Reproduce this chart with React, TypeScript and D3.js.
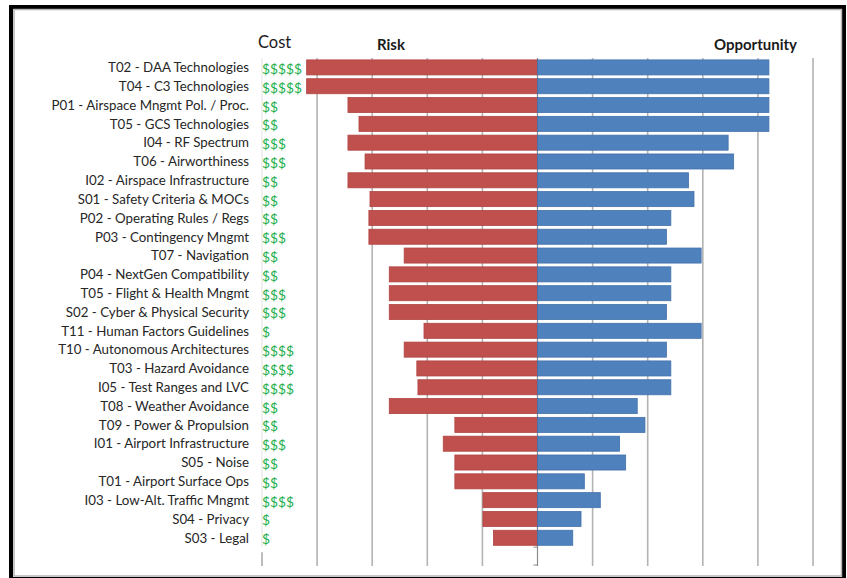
import React from "react";
import * as d3 from "d3";

// Projects, listed top to bottom
const categories = [
  "T02 - DAA Technologies",
  "T04 - C3 Technologies",
  "P01 - Airspace Mngmt Pol. / Proc.",
  "T05 - GCS Technologies ",
  "I04 - RF Spectrum",
  "T06 - Airworthiness",
  "I02 - Airspace Infrastructure",
  "S01 - Safety Criteria & MOCs",
  "P02 - Operating Rules / Regs",
  "P03 - Contingency Mngmt",
  "T07 - Navigation",
  "P04 - NextGen Compatibility",
  "T05 - Flight & Health Mngmt",
  "S02 - Cyber & Physical Security",
  "T11 - Human Factors Guidelines",
  "T10 - Autonomous Architectures",
  "T03 - Hazard Avoidance",
  "I05 - Test Ranges and LVC",
  "T08 - Weather Avoidance",
  "T09 - Power & Propulsion",
  "I01 - Airport Infrastructure",
  "S05 - Noise",
  "T01 - Airport Surface Ops",
  "I03 - Low-Alt. Traffic Mngmt",
  "S04 - Privacy",
  "S03 - Legal",
];

// Cost rating (number of $ signs)
const cost = [5, 5, 2, 2, 3, 3, 2, 2, 2, 3, 2, 2, 3, 3, 1, 4, 4, 4, 2, 2, 3, 2, 2, 4, 1, 1];

// Risk score (drawn to the left of zero)
const risk = [
  4.19, 4.19, 3.44, 3.24, 3.44, 3.13, 3.44, 3.04, 3.06, 3.06, 2.42, 2.69, 2.69,
  2.69, 2.06, 2.42, 2.19, 2.17, 2.69, 1.5, 1.71, 1.5, 1.5, 0.99, 0.99, 0.8,
];

// Opportunity score (drawn to the right of zero)
const opportunity = [
  4.2, 4.2, 4.2, 4.2, 3.46, 3.56, 2.74, 2.84, 2.42, 2.34, 2.97, 2.42, 2.42,
  2.34, 2.97, 2.34, 2.42, 2.42, 1.81, 1.95, 1.49, 1.6, 0.85, 1.14, 0.79, 0.64,
];

const gridTicks = [-5, -4, -3, -2, -1, 0, 1, 2, 3, 4, 5];

const W = 847;
const H = 578;
const FONT = "Lato, 'Open Sans', sans-serif";

export default function App() {
  const x = d3.scaleLinear().domain([-5, 5]).range([262, 813]);
  // one trailing empty slot below the last project
  const slots = [...categories, "__blank__"];
  const y = d3
    .scaleBand<string>()
    .domain(slots)
    .range([58, 566])
    .paddingInner(0.2)
    .paddingOuter(0.1);
  const bw = y.bandwidth();
  const x0 = x(0);
  const blankTop = (y("__blank__") as number) - (y.step() * 0.2) / 2;

  return (
    <svg
      width={W}
      height={H}
      style={{ position: "absolute", left: 0, top: 0, background: "#fff" }}
      fontFamily={FONT}
    >
      <rect x={0} y={0} width={W} height={H} fill="#fff" />
      {/* frame */}
      <rect x={11} y={7} width={833} height={572} fill="none" stroke="#000" strokeWidth={4} />
      <rect x={14} y={9.5} width={827.5} height={566.5} fill="none" stroke="#b5b5b5" strokeWidth={1.5} />

      {/* vertical gridlines */}
      {gridTicks.map((t) =>
        t === -5 ? (
          <g key={t}>
            <line x1={x(t)} x2={x(t)} y1={58} y2={blankTop} stroke="#e6e6e6" strokeWidth={1.2} />
            <line x1={x(t)} x2={x(t)} y1={blankTop + 5} y2={566} stroke="#a6a6a6" strokeWidth={1.5} />
          </g>
        ) : (
          <line
            key={t}
            x1={x(t)}
            x2={x(t)}
            y1={58}
            y2={566}
            stroke={t === 0 ? "#8c8c8c" : "#b3b3b3"}
            strokeWidth={t === 0 ? 1.2 : 1.6}
          />
        )
      )}

      {/* risk bars */}
      {categories.map((c, i) => (
        <rect
          key={"r" + i}
          x={x(-risk[i])}
          y={y(c)}
          width={x0 - x(-risk[i])}
          height={bw}
          fill="#C0504D"
          stroke="#b04542"
          strokeWidth={0.8}
        />
      ))}

      {/* opportunity bars */}
      {categories.map((c, i) => (
        <rect
          key={"o" + i}
          x={x0}
          y={y(c)}
          width={x(opportunity[i]) - x0}
          height={bw}
          fill="#4F81BD"
          stroke="#4372ab"
          strokeWidth={0.8}
        />
      ))}

      {/* axis ticks in the blank slot */}
      <line x1={x0 - 4} x2={x0} y1={blankTop} y2={blankTop} stroke="#8c8c8c" strokeWidth={1} />
      <line x1={x0 - 4} x2={x0} y1={565} y2={565} stroke="#8c8c8c" strokeWidth={1} />

      {/* category labels */}
      {categories.map((c, i) => (
        <text
          key={"l" + i}
          x={249}
          y={(y(c) as number) + bw / 2}
          dy="0.36em"
          textAnchor="end"
          fontSize={13.3}
          fill="#262626"
        >
          {c}
        </text>
      ))}

      {/* cost labels */}
      {categories.map((c, i) => (
        <text
          key={"c" + i}
          x={262}
          y={(y(c) as number) + bw / 2 + 1.5}
          dy="0.36em"
          fontSize={13.8}
          fill="#22ad4c"
        >
          {"$".repeat(cost[i])}
        </text>
      ))}

      {/* column headers */}
      <text x={258} y={48} fontSize={16.5} fill="#1a1a1a">
        Cost
      </text>
      <text x={377} y={50} fontSize={15} fontWeight="bold" fill="#1a1a1a">
        Risk
      </text>
      <text x={797} y={50} fontSize={15} fontWeight="bold" textAnchor="end" fill="#1a1a1a">
        Opportunity
      </text>
    </svg>
  );
}
